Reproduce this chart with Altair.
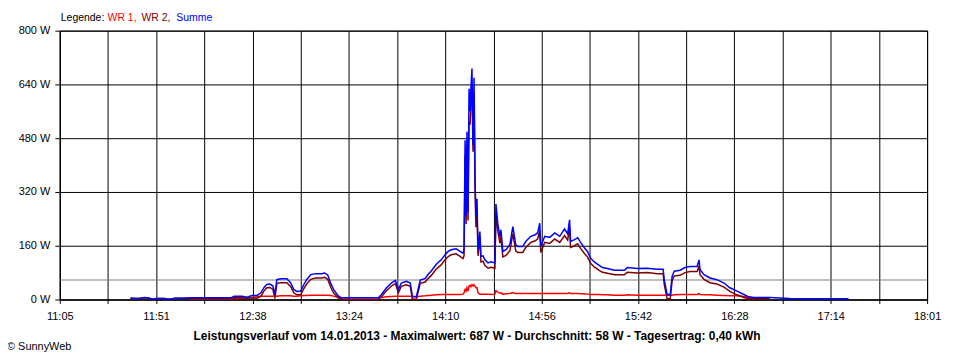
import altair as alt
import pandas as pd

# time in minutes after midnight
times = [
    698.9, 703.2, 705.6, 708.0, 709.4, 711.8, 715.1, 717.5, 720.4, 724.7,
    727.1, 731.9, 736.6, 741.4, 747.1, 748.6, 752.4, 754.8, 757.2, 759.6,
    761.5, 762.9, 764.3, 765.8, 767.2, 768.2, 769.1, 771.0, 773.9, 775.8,
    777.2, 778.7, 780.6, 782.0, 783.4, 785.4, 787.7, 790.6, 792.0, 793.5,
    794.9, 796.3, 798.7, 800.2, 808.3, 817.8, 819.3, 821.7, 824.0, 826.0,
    827.4, 828.8, 831.2, 833.1, 834.1, 836.0, 837.9, 840.3, 841.7, 843.1,
    845.5, 847.9, 849.8, 851.3, 852.7, 855.1, 857.0, 858.4, 858.9, 859.4,
    859.9, 860.3, 860.8, 861.3, 861.8, 862.2, 862.7, 863.2, 863.7, 864.2,
    864.6, 865.1, 865.6, 866.5, 867.0, 868.0, 868.9, 870.4, 871.8, 873.7,
    874.2, 875.1, 876.1, 876.6, 877.5, 879.0, 880.9, 882.3, 883.3, 883.7,
    884.7, 887.1, 888.5, 890.9, 892.8, 894.2, 895.2, 895.7, 897.6, 900.0,
    902.4, 904.8, 907.1, 908.6, 909.5, 910.0, 911.9, 913.4, 914.8, 916.7,
    918.1, 919.6, 921.5, 923.9, 925.3, 927.7, 931.0, 935.8, 937.2, 942.0,
    946.8, 951.6, 954.4, 954.9, 956.3, 957.8, 958.7, 959.7, 962.5, 964.9,
    967.3, 970.7, 971.6, 972.1, 974.0, 976.9, 980.2, 983.6, 986.4, 989.8,
    993.1, 995.5, 997.9, 999.3, 1005.5, 1015.1, 1023.2, 1032.8, 1043.3,
]

summe = [
    4, 3, 6, 4, 1, 3, 3, 1, 4, 4,
    5, 5, 5, 5, 5, 10, 10, 7, 12, 12,
    20, 35, 45, 46, 40, 15, 59, 62, 62, 49,
    30, 24, 25, 44, 59, 74, 77, 77, 79, 73,
    49, 30, 10, 5, 5, 5, 15, 35, 49, 57,
    30, 49, 54, 49, 10, 8, 58, 63, 75, 84,
    104, 118, 133, 143, 148, 151, 143, 138, 150, 474,
    250, 499, 260, 627, 560, 630, 687, 460, 660, 350,
    247, 300, 148, 202, 128, 130, 118, 109, 112, 109,
    284, 225, 187, 207, 143, 148, 163, 217, 178, 163,
    158, 158, 173, 188, 192, 198, 227, 158, 188, 185,
    198, 188, 210, 195, 237, 173, 178, 184, 170, 153,
    143, 123, 111, 101, 95, 92, 87, 87, 95, 92,
    93, 90, 90, 59, 15, 15, 69, 84, 87, 95,
    98, 98, 118, 89, 74, 64, 59, 49, 35, 25,
    15, 8, 6, 6, 6, 3, 2, 2, 2,
]

wr2 = [
    4, 3, 5, 4, 1, 3, 3, 1, 4, 4,
    3, 3, 3, 3, 3, 6, 5, 3, 5, 4,
    10, 25, 35, 36, 30, 3, 48, 50, 50, 38,
    20, 14, 14, 32, 46, 60, 64, 64, 66, 60,
    37, 20, 4, 1, 0, 0, 8, 26, 40, 47,
    20, 39, 44, 39, 2, 0, 48, 52, 63, 71,
    90, 103, 118, 128, 133, 136, 128, 122, 130, 430,
    225, 455, 235, 530, 520, 590, 640, 440, 610, 320,
    215, 270, 130, 185, 112, 114, 102, 93, 96, 93,
    255, 205, 168, 187, 127, 131, 145, 196, 160, 145,
    140, 140, 155, 170, 174, 180, 205, 140, 170, 167,
    180, 170, 190, 177, 215, 155, 160, 166, 152, 136,
    127, 108, 96, 86, 81, 78, 74, 74, 81, 79,
    80, 77, 77, 46, 2, 2, 56, 70, 72, 80,
    83, 83, 100, 74, 60, 50, 46, 37, 24, 14,
    6, 2, 2, 3, 3, None, None, None, None,
]

wr1 = [
    None, None, None, None, None, None, None, None, None, None,
    2, 2, 2, 2, 2, 3, 4, 4, 6, 8,
    10, 10, 10, 10, 10, 10, 10, 11, 11, 11,
    10, 10, 11, 12, 12, 13, 13, 13, 13, 13,
    12, 10, 6, 5, 5, 5, 6, 8, 9, 10,
    10, 10, 10, 10, 8, 8, 10, 11, 12, 13,
    14, 15, 15, 15, 15, 15, 15, 16, 20, 30,
    25, 35, 25, 40, 42, 38, 44, 40, 44, 40,
    35, 35, 20, 16, 16, 16, 16, 16, 15, 16,
    26, 22, 19, 20, 16, 17, 18, 21, 18, 18,
    18, 18, 18, 18, 18, 18, 18, 18, 18, 18,
    18, 18, 18, 18, 20, 18, 18, 18, 17, 17,
    16, 15, 15, 15, 14, 14, 13, 13, 14, 13,
    13, 13, 13, 13, 13, 13, 13, 14, 15, 15,
    15, 15, 18, 15, 14, 14, 13, 12, 11, 11,
    9, 6, 2, None, None, None, None, None, None,
]

x_tick_labels = ["11:05", "11:51", "12:38", "13:24", "14:10",
                 "14:56", "15:42", "16:28", "17:14", "18:01"]
x_start, x_end = 665, 1081
y_ticks = [0, 160, 320, 480, 640, 800]
average = 58
series_names = ["WR 1", "WR 2", "Summe"]
series_colors = ["#ff0000", "#800000", "#0000ff"]

assert len(times) == len(summe) == len(wr2) == len(wr1)

rows = []
for name, vals in zip(series_names, (wr1, wr2, summe)):
    for t, v in zip(times, vals):
        if v is not None:
            rows.append({"t": t, "W": v, "series": name})
df = pd.DataFrame(rows)

step = (x_end - x_start) / 18
tick_vals = [x_start + i * step for i in range(19)]
label_arr = "[" + ",".join(
    ("'" + x_tick_labels[i // 2] + "'") if i % 2 == 0 else "''" for i in range(19)
) + "]"
label_expr = f"{label_arr}[round((datum.value - {x_start}) / {step})]"

FONT = "Liberation Sans"

x_enc = alt.X("t:Q",
              scale=alt.Scale(domain=[x_start, x_end], nice=False, zero=False),
              axis=alt.Axis(values=tick_vals, labelExpr=label_expr, title=None,
                            grid=True, tickSize=4, labelPadding=7,
                            labelFlush=False, labelOverlap=False))
y_enc = alt.Y("W:Q",
              scale=alt.Scale(domain=[0, 800], nice=False),
              axis=alt.Axis(values=y_ticks, labelExpr="datum.value + ' W'",
                            title=None, grid=True, tickSize=5, labelPadding=5))

color_scale = alt.Scale(domain=series_names, range=series_colors)

avg_rule = alt.Chart(pd.DataFrame({"W": [average]})).mark_rule(
    color="#808080", strokeWidth=1
).encode(y=alt.Y("W:Q", scale=alt.Scale(domain=[0, 800], nice=False)))

line_layers = []
for name in series_names:
    line_layers.append(
        alt.Chart(df).transform_filter(alt.datum.series == name)
        .mark_line(strokeWidth=1.5, interpolate="linear")
        .encode(x=x_enc, y=y_enc,
                color=alt.Color("series:N", scale=color_scale, legend=None))
    )

# legend texts
legend_parts = pd.DataFrame({
    "txt": ["Legende:", "WR 1,", "WR 2,", "Summe"],
    "col": ["#000000", "#ff0000", "#800000", "#0000ff"],
    "px": [1, 48, 82, 117],
})
legend_layers = []
for _, r in legend_parts.iterrows():
    legend_layers.append(
        alt.Chart(pd.DataFrame({"txt": [r["txt"]]})).mark_text(
            align="left", baseline="middle", font=FONT, fontSize=10.5, color=r["col"]
        ).encode(x=alt.value(int(r["px"])), y=alt.value(-13), text="txt:N")
    )

title_text = ("Leistungsverlauf vom 14.01.2013 - Maximalwert: 687 W - "
              "Durchschnitt: 58 W - Tagesertrag: 0,40 kWh")
title_layer = alt.Chart(pd.DataFrame({"txt": [title_text]})).mark_text(
    align="center", baseline="middle", font=FONT, fontSize=12, fontWeight="bold",
    color="black"
).encode(x=alt.value(419), y=alt.value(307), text="txt:N")

copy_layer = alt.Chart(pd.DataFrame({"txt": ["© SunnyWeb"]})).mark_text(
    align="left", baseline="middle", font=FONT, fontSize=11, color="black"
).encode(x=alt.value(-53), y=alt.value(318), text="txt:N")

chart = alt.layer(
    avg_rule, *line_layers, *legend_layers, title_layer, copy_layer
).properties(
    width=871, height=270,
    autosize=alt.AutoSizeParams(type="none"),
    padding={"left": 52, "top": 22, "right": 25, "bottom": 58},
    background="white",
).configure_axis(
    domainColor="black", tickColor="black", labelColor="black",
    gridColor="black", gridOpacity=1, gridWidth=1,
    labelFont=FONT, labelFontSize=11,
).configure_view(stroke="black")

chart.save("out.html", embed_options={"renderer": "svg", "actions": False})
